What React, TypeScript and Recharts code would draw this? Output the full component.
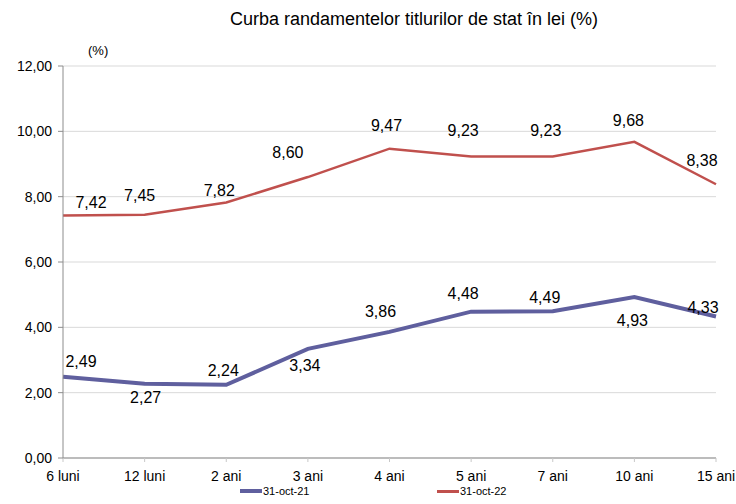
import React from 'react';
import { LineChart, Line, XAxis, YAxis, CartesianGrid, LabelList } from 'recharts';

const categories = ['6 luni', '12 luni', '2 ani', '3 ani', '4 ani', '5 ani', '7 ani', '10 ani', '15 ani'];
const oct21 = [2.49, 2.27, 2.24, 3.34, 3.86, 4.48, 4.49, 4.93, 4.33];
const oct22 = [7.42, 7.45, 7.82, 8.6, 9.47, 9.23, 9.23, 9.68, 8.38];
const yTicks = [0, 2, 4, 6, 8, 10, 12];

// label offsets (dx, dy) relative to point, in px
const off21: [number, number][] = [[18, -15], [1, 14], [-3, -14], [-3, 17], [-9, -20], [-8, -18], [-8, -14], [-2, 24], [-13, -9]];
const off22: [number, number][] = [[28, -13], [-5, -19], [-7, -12], [-20, -25], [-3, -23], [-8, -26], [-7, -26], [-6, -21], [-14, -24]];

const data = categories.map((c, i) => ({ cat: c, a: oct21[i], b: oct22[i] }));

const fmt = (v: number) => v.toFixed(2).replace('.', ',');
const narrow = '"Liberation Sans Narrow", "Liberation Sans", Arial, sans-serif';
const sans = '"Liberation Sans", Arial, sans-serif';

const makeLabel = (offs: [number, number][]) => (props: any) => {
  const { x, y, value, index } = props;
  const [dx, dy] = offs[index];
  return (
    <text x={x + dx} y={y + dy} textAnchor="middle" dominantBaseline="central" fontSize={16} fontFamily={sans} fill="#000">
      {fmt(value)}
    </text>
  );
};

export default function App() {
  return (
    <div style={{ position: 'absolute', left: 0, top: 0, width: 736, height: 504, background: '#fff' }}>
      <div style={{ position: 'absolute', left: 0, width: 736, top: 9, textAlign: 'center', paddingLeft: 92, boxSizing: 'border-box', fontFamily: narrow, fontSize: 18, color: '#000' }}>
        Curba randamentelor titlurilor de stat în lei (%)
      </div>
      <div style={{ position: 'absolute', left: 88, top: 43, fontFamily: narrow, fontSize: 13, color: '#000' }}>(%)</div>
      <LineChart width={736} height={504} data={data} margin={{ top: 66, right: 20, bottom: 16, left: 0 }}>
        <CartesianGrid vertical={false} stroke="#d9d9d9" />
        <XAxis
          dataKey="cat"
          padding={{ left: 0, right: 0 }}
          stroke="#8c8c8c"
          tickSize={4}
          tick={{ fill: '#000', fontSize: 14, fontFamily: narrow }}
          tickLine={{ stroke: '#c8c8c8' }}
          tickMargin={9}
          height={30}
          interval={0}
        />
        <YAxis
          domain={[0, 12]}
          ticks={yTicks}
          width={63}
          stroke="#8c8c8c"
          tickSize={5}
          tickMargin={6}
          tickFormatter={fmt}
          tick={{ fill: '#000', fontSize: 14, fontFamily: narrow }}
        />
        <Line type="linear" dataKey="a" stroke="#5f5f9e" strokeWidth={4} dot={false} isAnimationActive={false}>
          <LabelList dataKey="a" content={makeLabel(off21)} />
        </Line>
        <Line type="linear" dataKey="b" stroke="#c0504d" strokeWidth={2.5} dot={false} isAnimationActive={false}>
          <LabelList dataKey="b" content={makeLabel(off22)} />
        </Line>
      </LineChart>
      <div style={{ position: 'absolute', left: 240, top: 485, display: 'flex', alignItems: 'center', fontFamily: narrow, fontSize: 11 }}>
        <span style={{ display: 'inline-block', width: 22, height: 4, background: '#5f5f9e', marginRight: 1 }} />
        <span>31-oct-21</span>
      </div>
      <div style={{ position: 'absolute', left: 437, top: 485, display: 'flex', alignItems: 'center', fontFamily: narrow, fontSize: 11 }}>
        <span style={{ display: 'inline-block', width: 22, height: 3, background: '#c0504d', marginRight: 1 }} />
        <span>31-oct-22</span>
      </div>
    </div>
  );
}
